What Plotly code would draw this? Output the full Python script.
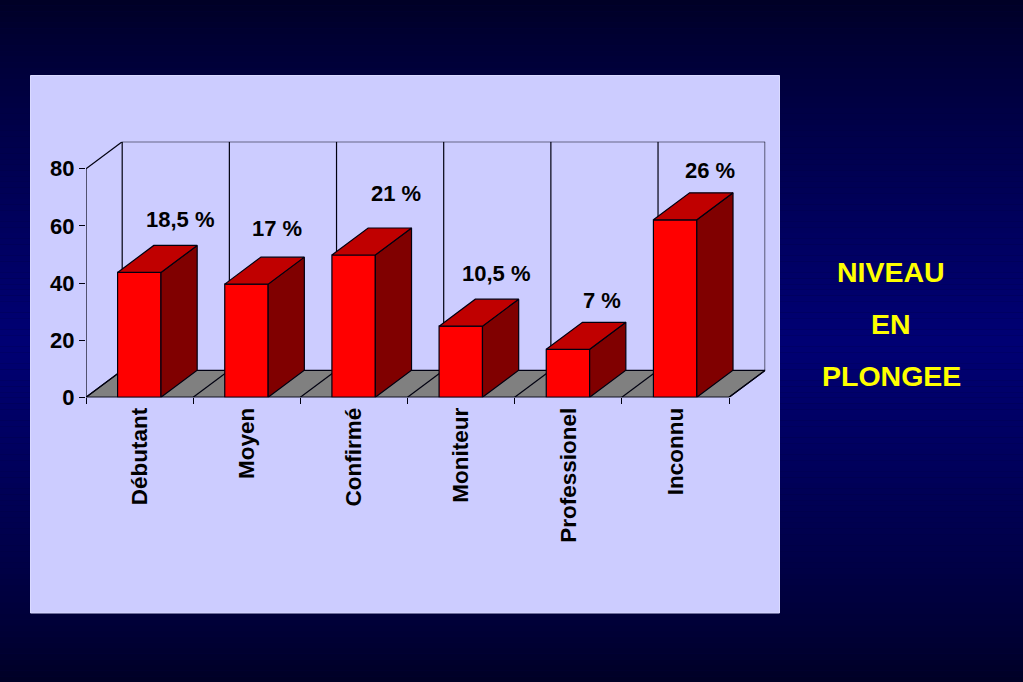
import plotly.graph_objects as go

W, H = 1023, 682
categories = ["Débutant", "Moyen", "Confirmé", "Moniteur", "Professionel", "Inconnu"]
values = [43.7, 39.6, 49.8, 24.9, 16.8, 62.1]
pct_labels = ["18,5 %", "17 %", "21 %", "10,5 %", "7 %", "26 %"]
pct_px = [(180, 220), (277, 229), (396, 194), (496, 273), (602, 300), (710, 170)]
title_lines = [("NIVEAU", 272), ("EN", 324), ("PLONGEE", 376)]
y_ticks = [0, 20, 40, 60, 80]

# pixel geometry of the pseudo-3D box
X0, X1, Y0, Y80 = 86, 729, 397.3, 168.7
DX_PX, DY_PX = 36.2, 27
PX_PER_CAT = (X1 - X0) / 6
PX_PER_UNIT = (Y0 - Y80) / 80
DX = DX_PX / PX_PER_CAT
DY = DY_PX / PX_PER_UNIT
BAR_W = 43.4 / PX_PER_CAT
BAR_SHIFT = -0.3 / PX_PER_CAT
xmax = 6 + DX
ymax = 80 + DY
LINE = dict(color="#000010", width=1.2)


def px(x):
    return x / W


def py(y):
    return 1 - y / H


def gradient_colour(t):
    # t = 0 at top/bottom edge, 1 at the vertical middle
    return f"rgb(0,0,{int(round(36 + 80 * t ** 0.8))})"


shapes = []
STRIPS = 120
for i in range(STRIPS):
    mid = (i + 0.5) / STRIPS
    t = 1 - abs(2 * mid - 1)
    shapes.append(dict(type="rect", xref="paper", yref="paper", layer="below",
                       x0=0, x1=1, y0=1 - i / STRIPS, y1=1 - (i + 1) / STRIPS,
                       fillcolor=gradient_colour(t), line_width=0))
shapes.append(dict(type="rect", xref="paper", yref="paper", layer="below",
                   x0=px(30.5), x1=px(779.5), y0=py(75.5), y1=py(613),
                   fillcolor="#CCCCFF", line=dict(color="#DADAFF", width=1)))
# floor
shapes.append(dict(type="path", xref="x", yref="y", layer="below",
                   path=f"M0,0 L{DX},{DY} L{xmax},{DY} L6,0 Z",
                   fillcolor="#808080", line=LINE))
for i in range(0, 7):
    # floor diagonals and back-wall verticals
    shapes.append(dict(type="line", xref="x", yref="y", layer="below",
                       x0=i, y0=0, x1=i + DX, y1=DY, line=LINE))
    shapes.append(dict(type="line", xref="x", yref="y", layer="below",
                       x0=i + DX, y0=DY, x1=i + DX, y1=ymax, line=LINE))
shapes.append(dict(type="line", xref="x", yref="y", layer="below",
                   x0=DX, y0=ymax, x1=xmax, y1=ymax, line=LINE))
shapes.append(dict(type="line", xref="x", yref="y", layer="below",
                   x0=0, y0=80, x1=DX, y1=ymax, line=LINE))
shapes.append(dict(type="line", xref="x", yref="y", layer="below",
                   x0=0, y0=0, x1=0, y1=80, line=LINE))

fig = go.Figure()
centres = [i + 0.5 + BAR_SHIFT for i in range(len(values))]
fig.add_trace(go.Bar(x=centres, y=values, width=BAR_W, marker=dict(color="#FF0000", line=LINE),
                     hoverinfo="skip"))
for c, v in zip(centres, values):
    l, r = c - BAR_W / 2, c + BAR_W / 2
    fig.add_trace(go.Scatter(x=[r, r + DX, r + DX, r, r], y=[0, DY, v + DY, v, 0], mode="lines",
                             fill="toself", fillcolor="#800000", line=LINE, hoverinfo="skip"))
    fig.add_trace(go.Scatter(x=[l, l + DX, r + DX, r, l], y=[v, v + DY, v + DY, v, v], mode="lines",
                             fill="toself", fillcolor="#C00000", line=LINE, hoverinfo="skip"))

annotations = []
for t, (x, y) in zip(pct_labels, pct_px):
    annotations.append(dict(text=t, xref="paper", yref="paper", x=px(x), y=py(y), showarrow=False,
                            xanchor="center", yanchor="middle",
                            font=dict(family="Liberation Sans", size=22, color="black", weight="bold")))
for t, y in title_lines:
    annotations.append(dict(text=t, xref="paper", yref="paper", x=px(891), y=py(y), showarrow=False,
                            xanchor="center", yanchor="middle",
                            font=dict(family="Liberation Sans", size=28.5, color="#FFFF00", weight="bold")))

fig.update_layout(
    template=None,
    width=W, height=H, margin=dict(l=0, r=0, t=0, b=0), showlegend=False,
    paper_bgcolor="#000040", plot_bgcolor="rgba(0,0,0,0)", shapes=shapes, annotations=annotations,
    xaxis=dict(domain=[px(X0), px(X0 + xmax * PX_PER_CAT)], range=[0, xmax], showgrid=False, zeroline=False,
               showline=False, automargin=False, tickmode="array", tickvals=[i + 0.5 for i in range(6)],
               ticktext=categories, ticks="", tickangle=-90, ticklabelstandoff=5,
               tickfont=dict(family="Liberation Sans", size=22.5, color="black", weight="bold"),
               minor=dict(tickmode="array", tickvals=list(range(7)), ticks="outside", ticklen=6,
                          tickcolor="#000010", tickwidth=1)),
    yaxis=dict(domain=[py(Y0), py(Y80 - DY_PX)], range=[0, ymax], showgrid=False, zeroline=False,
               showline=False, automargin=False, tickmode="array", tickvals=y_ticks, ticks="outside", ticklen=6,
               tickcolor="#000010", tickwidth=1,
               tickfont=dict(family="Liberation Sans", size=22, color="black", weight="bold")),
)
fig.add_trace(go.Scatter(x=[0, 6], y=[0, 0], mode="lines", line=LINE, hoverinfo="skip"))

fig.write_html("out.html", config=dict(displayModeBar=False),
               post_script="document.body.style.margin='0';document.body.style.background='#000';")
